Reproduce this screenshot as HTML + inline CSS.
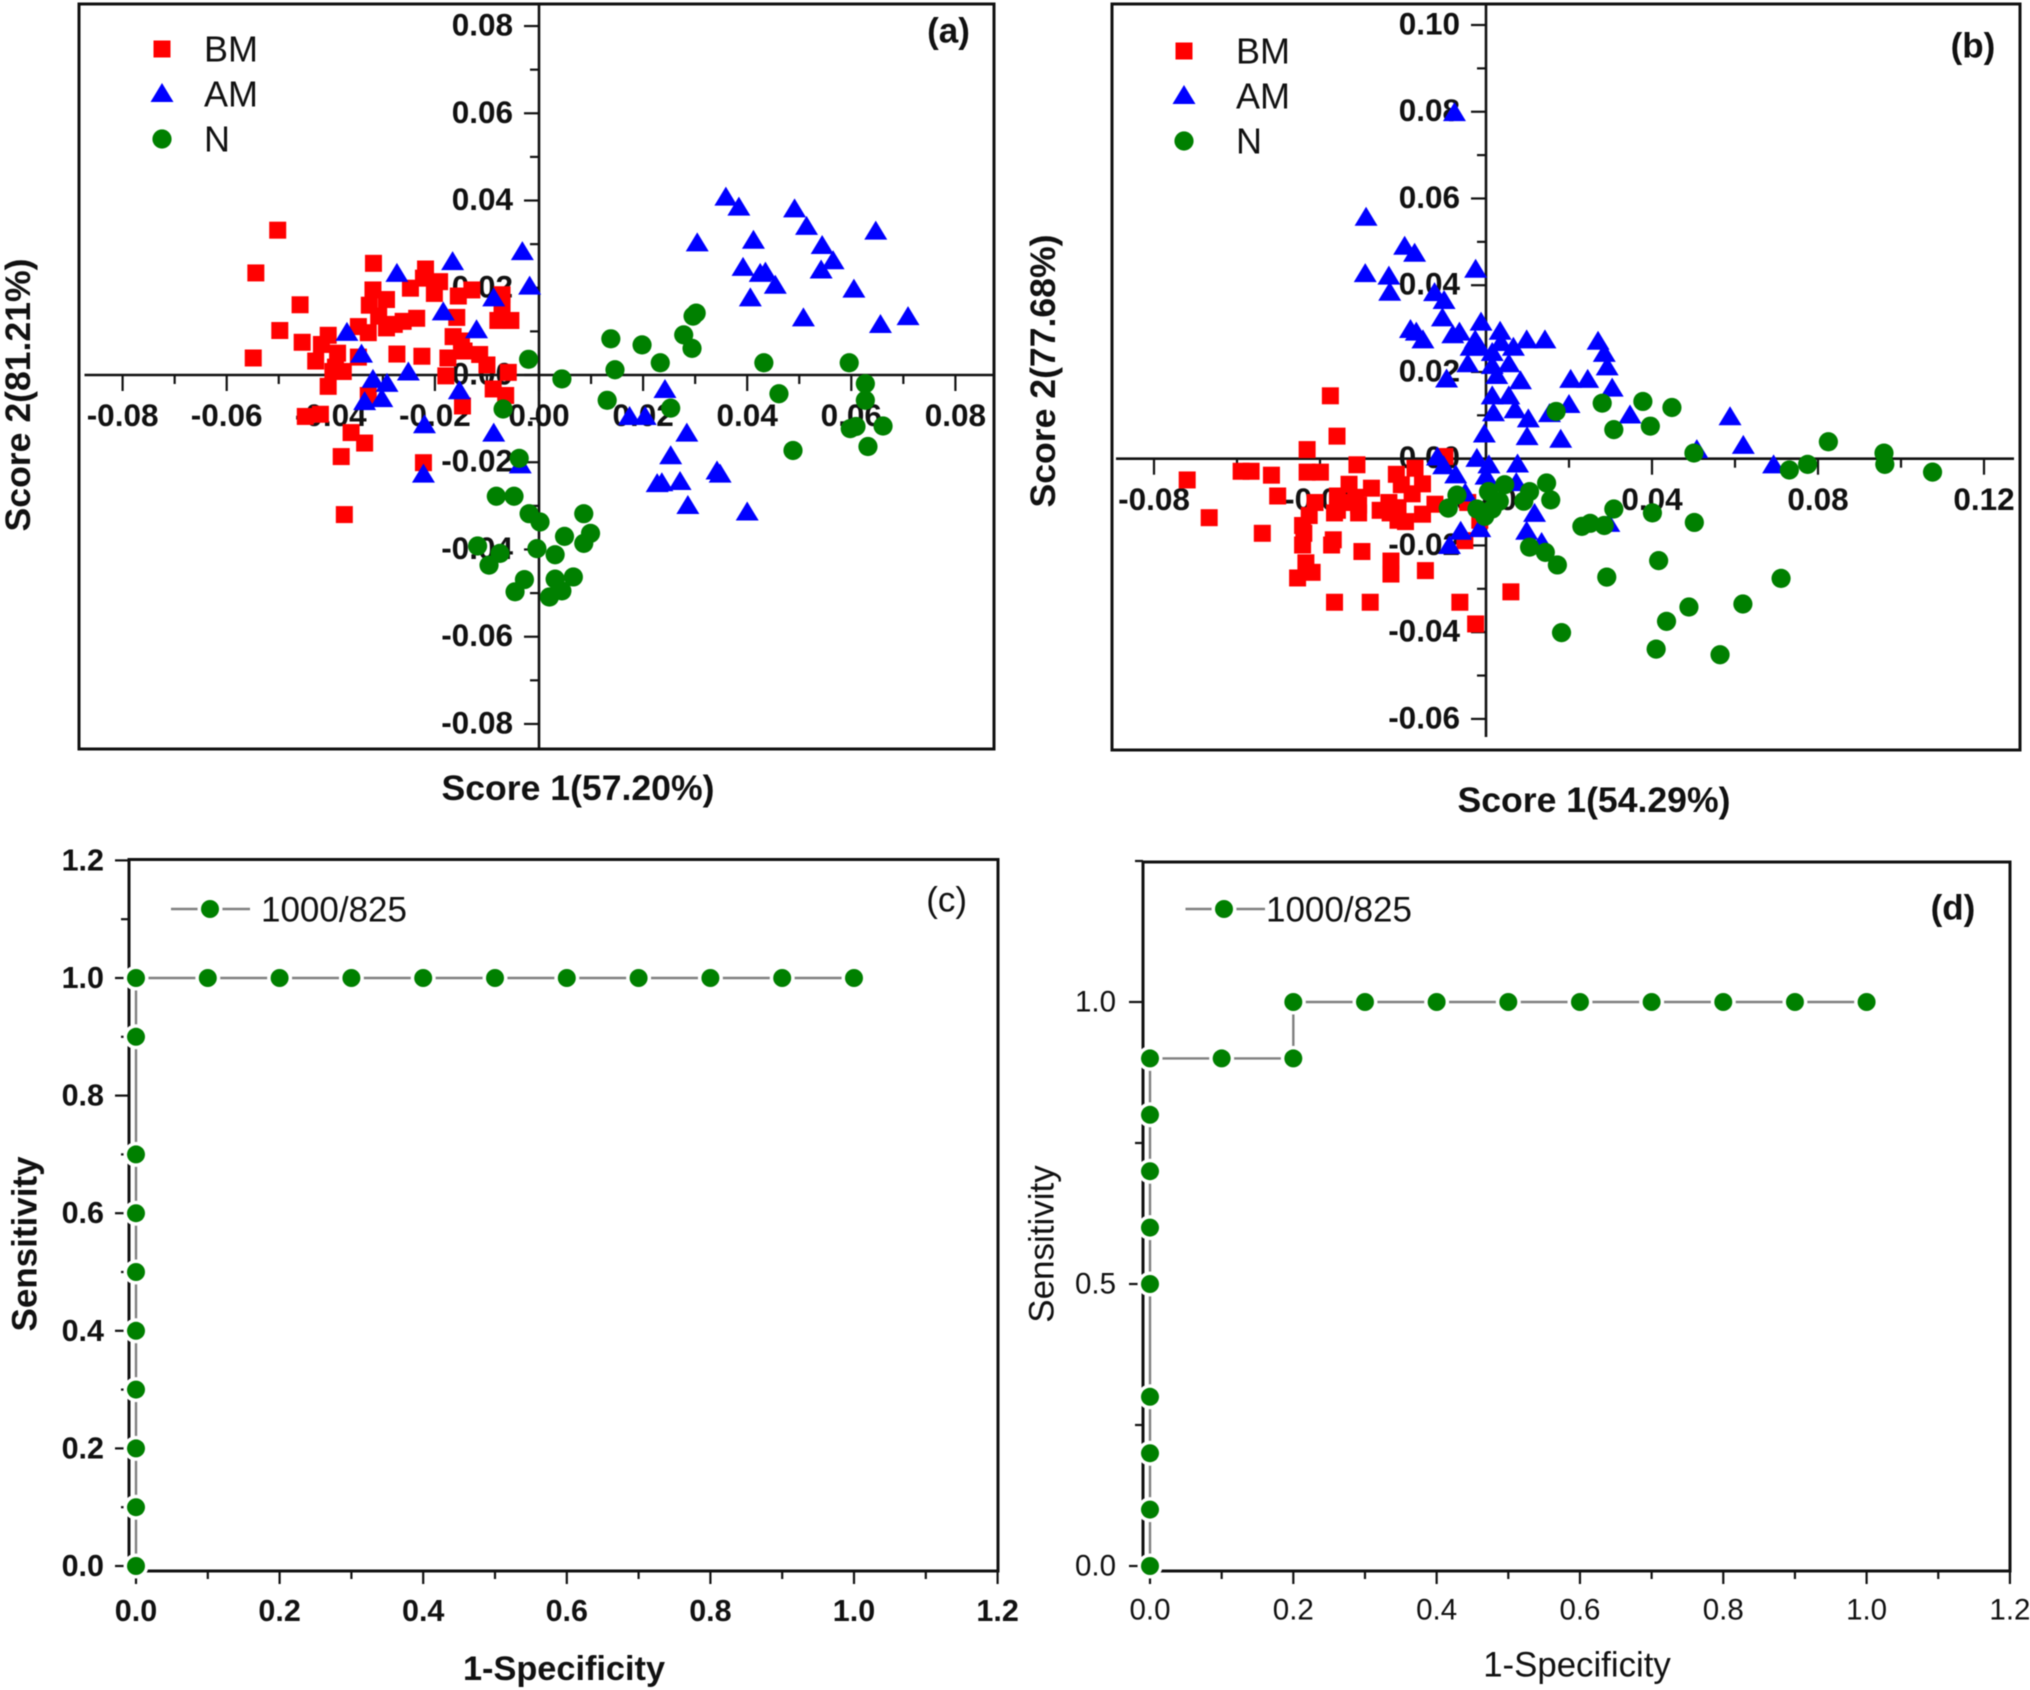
<!DOCTYPE html>
<html lang="en">
<head>
<meta charset="utf-8">
<title>PCA score plots and ROC curves</title>
<style>
html,body{margin:0;padding:0;background:#fff;}
svg{display:block;filter:blur(0.5px);}
text{font-family:"Liberation Sans",Arial,sans-serif;fill:#111;}
.b{font-weight:bold;}
</style>
</head>
<body>
<svg id="figure" xmlns="http://www.w3.org/2000/svg" width="2030" height="1690" viewBox="0 0 2030 1690"></svg>
<script>
// ---------- Panel (a) data ----------
const aBmX = [-.0502,-.0544,-.0459,-.0498,-.0455,-.0549,-.0429,-.0405,-.0418,-.0387,-.0391,-.0376,-.0396,-.0405,-.0449,-.0420,-.0361,-.0335,-.0380,-.0374,-.0222,-.0147,-.0179,-.0175,-.0225,-.0273,-.0347,-.0328,-.0318,-.0319,-.0326,-.0293,-.0308,-.0293,-.0278,-.0261,-.0235,-.0247,-.0218,-.0222,-.0191,-.0201,-.0155,-.0129,-.0071,-.0158,-.0165,-.0149,-.0144,-.0114,-.0100,-.0071,-.0079,-.0054,-.0059,-.0088,-.0064,-.0328,-.0347];
const aBmY = [.0332,.0234,.0161,.0102,.0075,.0039,.0032,.0091,.0070,.0050,.0018,.0008,.0008,-.0026,-.0095,-.0090,-.0132,-.0156,-.0187,-.0320,-.0201,-.0071,-.0002,.0039,.0043,.0048,.0111,.0097,.0256,.0195,.0160,.0173,.0135,.0108,.0116,.0123,.0130,.0199,.0243,.0222,.0214,.0187,.0181,.0195,.0184,.0132,.0088,.0078,.0055,.0047,.0023,.0158,.0125,.0125,.0006,-.0032,-.0047,-.0047,.0041];
const aAmX = [-.0369,-.0341,-.0319,-.0292,-.0251,-.0335,-.0302,-.0273,-.0166,-.0184,-.0087,-.0120,-.0032,-.0018,-.0153,-.0220,-.0087,-.0036,-.0222,.0242,.0174,.0204,.0284,.0253,.0227,.0236,.0271,.0286,.0342,.0348,.0400,.0304,.0359,.0384,.0491,.0514,.0544,.0647,.0412,.0392,.0425,.0435,.0454,.0406,.0542,.0565,.0605,.0508,.0656,.0709];
const aAmY = [.0099,.0049,-.0009,-.0018,.0008,-.0060,-.0053,.0234,.0261,.0146,.0178,.0105,.0284,.0205,-.0035,-.0113,-.0132,-.0205,-.0226,-.0032,-.0094,-.0094,-.0132,-.0184,-.0248,-.0246,-.0243,-.0298,-.0219,-.0226,-.0313,.0304,.0409,.0386,.0382,.0342,.0298,.0331,.0310,.0248,.0234,.0237,.0207,.0178,.0242,.0263,.0198,.0132,.0117,.0135];
const aNX = [-.0020,.0044,.0138,.0146,.0131,.0198,.0233,.0253,.0278,.0294,.0296,.0302,.0432,.0461,.0488,.0596,.0627,.0627,.0598,.0609,.0661,.0632,-.0069,-.0038,-.0082,-.0048,-.0019,.0002,.0086,.0099,.0086,.0049,-.0004,.0031,-.0118,-.0075,-.0096,-.0028,-.0046,.0031,.0066,.0044,.0020];
const aNY = [.0036,-.0009,.0083,.0012,-.0058,.0069,.0028,-.0076,.0092,.0061,.0135,.0142,.0028,-.0043,-.0173,.0028,-.0020,-.0058,-.0123,-.0118,-.0117,-.0164,-.0078,-.0191,-.0278,-.0278,-.0318,-.0337,-.0318,-.0363,-.0386,-.0370,-.0398,-.0412,-.0392,-.0409,-.0436,-.0469,-.0497,-.0468,-.0463,-.0495,-.0509];
const aXTicks = ["-0.08","-0.06","-0.04","-0.02","0.00","0.02","0.04","0.06","0.08"];
const aYTicks = ["-0.08","-0.06","-0.04","-0.02","0.00","0.02","0.04","0.06","0.08"];

// ---------- Panel (b) data ----------
const bBmX = [-.0720,-.0667,-.0590,-.0566,-.0517,-.0502,-.0539,-.0431,-.0375,-.0359,-.0431,-.0399,-.0311,-.0330,-.0358,-.0412,-.0426,-.0442,-.0439,-.0442,-.0365,-.0368,-.0372,-.0434,-.0419,-.0454,-.0365,-.0279,-.0299,-.0229,-.0229,-.0146,-.0063,-.0025,.0060,-.0343,-.0307,-.0307,-.0276,-.0255,-.0234,-.0212,-.0212,-.0194,-.0216,-.0204,-.0171,-.0153,-.0178,-.0153,-.0123,-.0099,-.0044,-.0051,-.0015,-.0314,-.0231,-.0358];
const bBmY = [-.0049,-.0136,-.0029,-.0029,-.0038,-.0086,-.0172,.0021,.0145,.0052,-.0031,-.0031,-.0014,-.0059,-.0086,-.0101,-.0131,-.0154,-.0172,-.0199,-.0125,-.0187,-.0199,-.0240,-.0262,-.0275,-.0331,-.0331,-.0214,-.0236,-.0266,-.0258,-.0331,-.0381,-.0307,-.0101,-.0107,-.0125,-.0068,-.0119,-.0101,-.0113,-.0142,-.0145,-.0036,-.0060,-.0022,-.0058,-.0081,-.0128,-.0105,.0005,-.0101,-.0189,-.0142,-.0089,-.0125,-.0119];
const bAmX = [-.0076,-.0289,-.0196,-.0172,-.0291,-.0234,-.0232,-.0025,-.0124,-.0101,-.0105,-.0182,-.0168,-.0152,-.0080,-.0064,-.0012,.0034,-.0026,-.0036,-.0044,-.0015,.0015,.0036,.0066,.0098,.0142,.0015,.0055,-.0095,.0026,.0083,.0270,.0285,.0292,.0304,.0204,.0245,.0200,.0015,.0055,.0018,.0070,.0102,.0153,.0347,-.0004,.0099,.0180,.0588,.0620,.0508,.0693,-.0117,-.0102,-.0073,-.0022,.0007,.0076,.0000,.0073,-.0050,.0117,.0098,.0134,-.0061,-.0015,-.0088,.0296];
const bAmY = [.0799,.0558,.0491,.0475,.0428,.0422,.0385,.0438,.0384,.0366,.0326,.0299,.0293,.0275,.0287,.0293,.0316,.0295,.0275,.0258,.0220,.0258,.0246,.0269,.0258,.0275,.0275,.0216,.0220,.0185,.0193,.0181,.0272,.0244,.0213,.0164,.0184,.0184,.0126,.0146,.0146,.0107,.0114,.0093,.0105,.0102,.0058,.0052,.0046,.0098,.0032,.0022,-.0013,.0005,-.0015,-.0036,.0002,-.0013,-.0011,-.0039,-.0054,-.0078,-.0125,-.0166,-.0192,-.0166,-.0160,-.0199,-.0148];
const bNX = [.0169,.0280,.0378,.0448,.0308,.0396,.0501,.0825,.0731,.0775,.0959,.0961,.1076,.0146,.0105,.0156,.0091,.0045,.0006,.0032,-.0070,-.0091,-.0022,-.0003,.0015,.0308,.0401,.0502,.0231,.0251,.0285,.0105,.0143,.0172,.0291,.0416,.0711,.0619,.0489,.0435,.0182,.0410,.0564];
const bNY = [.0109,.0128,.0132,.0118,.0067,.0075,.0013,.0039,-.0026,-.0013,.0013,-.0013,-.0031,-.0056,-.0076,-.0095,-.0098,-.0060,-.0076,-.0098,-.0084,-.0114,-.0116,-.0133,-.0116,-.0116,-.0125,-.0147,-.0156,-.0149,-.0154,-.0204,-.0216,-.0245,-.0273,-.0235,-.0276,-.0335,-.0342,-.0375,-.0401,-.0439,-.0452];
const bXTicks = ["-0.08","-0.04","0.00","0.04","0.08","0.12"];
const bYTicks = ["-0.06","-0.04","-0.02","0.00","0.02","0.04","0.06","0.08","0.10"];

// ---------- Panel (c) data ----------
const cFpr = [0,0,0,0,0,0,0,0,0,0,0,.1,.2,.3,.4,.5,.6,.7,.8,.9,1];
const cTpr = [0,.1,.2,.3,.4,.5,.6,.7,.9,1,1,1,1,1,1,1,1,1,1,1,1];
const cXTicks = ["0.0","0.2","0.4","0.6","0.8","1.0","1.2"];
const cYTicks = ["0.0","0.2","0.4","0.6","0.8","1.0","1.2"];

// ---------- Panel (d) data ----------
const dFpr = [0,0,0,0,0,0,0,0,0,.1,.2,.2,.3,.4,.5,.6,.7,.8,.9,1];
const dTpr = [0,.1,.2,.3,.5,.6,.7,.8,.9,.9,.9,1,1,1,1,1,1,1,1,1];
const dXTicks = ["0.0","0.2","0.4","0.6","0.8","1.0","1.2"];
const dYTicks = ["0.0","0.5","1.0"];

const NS = "http://www.w3.org/2000/svg";
const root = document.getElementById("figure");
const RED = "#ff0000", BLUE = "#0000ff", GREEN = "#008000", INK = "#111", LINE = "#808080";

// axis scale functions
const xA = v => 539 + v * 5205;
const yA = v => 375 - v * 4362;
const xB = v => 1486 + v * 4150;
const yB = v => 458.7 - v * 4337;
const xC = v => 136 + v * 718;
const yC = v => 1566 - v * 588;
const xD = v => 1150 + v * 716.6;
const yD = v => 1566 - v * 564;

function mk(tag, parent, attrs, content) {
  const el = document.createElementNS(NS, tag);
  for (const k in attrs) el.setAttribute(k, attrs[k]);
  if (content !== undefined) el.textContent = content;
  parent.appendChild(el);
  return el;
}
function group(name) {
  const g = mk("g", root, {});
  
  
  return g;
}
function label(parent, name, x, y, str, size, bold, anchor, rotate) {
  const a = {x: x, y: y, "font-size": size, "text-anchor": anchor || "middle", "dominant-baseline": "central"};
  if (bold) a["class"] = "b";
  if (rotate) a.transform = "rotate(-90 " + x + " " + y + ")";
  const t = mk("text", parent, a, str);
  
  
  return t;
}
function frame(parent, x0, y0, x1, y1) {
  const r = mk("rect", parent, {x: x0, y: y0, width: x1 - x0, height: y1 - y0, fill: "none", stroke: INK, "stroke-width": 3});
  
  
}
function axisLine(parent, name, x1, y1, x2, y2) {
  const l = mk("line", parent, {x1: x1, y1: y1, x2: x2, y2: y2, stroke: INK, "stroke-width": 2.6});
  
  
}
function tick(parent, x1, y1, x2, y2) {
  const l = mk("line", parent, {x1: x1, y1: y1, x2: x2, y2: y2, stroke: INK, "stroke-width": 2.2});
  
  
}
function square(parent, x, y) {
  const s = mk("rect", parent, {x: x - 8.5, y: y - 8.5, width: 17, height: 17, fill: RED});
  
  
}
function triangle(parent, x, y) {
  const p = mk("polygon", parent, {points: (x - 11.5) + "," + (y + 9) + " " + (x + 11.5) + "," + (y + 9) + " " + x + "," + (y - 10), fill: BLUE});
  
  
}
function dot(parent, x, y) {
  const c = mk("circle", parent, {cx: x, cy: y, r: 9.6, fill: GREEN});
  
  
}
function rocPoint(parent, x, y) {
  const halo = mk("circle", parent, {cx: x, cy: y, r: 12.5, fill: "#fff"});
  
  
  const c = mk("circle", parent, {cx: x, cy: y, r: 9, fill: GREEN});
  
  
}

function scoreLegend(parent, mx, tx, y1, y2, y3) {
  square(parent, mx, y1);
  label(parent, "legend-bm", tx, y1, "BM", 36, false, "start");
  triangle(parent, mx, y2);
  label(parent, "legend-am", tx, y2 + 1, "AM", 36, false, "start");
  dot(parent, mx, y3);
  label(parent, "legend-n", tx, y3, "N", 36, false, "start");
}

function scorePanel(p) {
  const g = group(p.name);
  frame(g, p.box[0], p.box[1], p.box[2], p.box[3]);
  axisLine(g, "x-zero-axis", p.xAxis[0], p.sy(0), p.xAxis[1], p.sy(0));
  axisLine(g, "y-zero-axis", p.sx(0), p.box[1], p.sx(0), p.yEnd);
  p.xTicks.forEach(s => {
    const v = parseFloat(s);
    tick(g, p.sx(v), p.sy(0), p.sx(v), p.sy(0) + 16);
    label(g, "x-tick-label", p.sx(v), p.xLabelY, s, 31.5, true);
    const m = v + p.xMinor;
    if (p.sx(m) < p.xAxis[1] - 4 && p.sx(m) > p.xAxis[0]) tick(g, p.sx(m), p.sy(0), p.sx(m), p.sy(0) + 9);
  });
  p.yTicks.forEach((s, i) => {
    const v = parseFloat(s);
    tick(g, p.sx(0), p.sy(v), p.sx(0) - 15, p.sy(v));
    label(g, "y-tick-label", p.yLabelX, p.sy(v) - 1.5, s, 31.5, true, "end");
    if (i < p.yTicks.length - 1) tick(g, p.sx(0), p.sy(v + 0.01), p.sx(0) - 9, p.sy(v + 0.01));
  });
  p.bmX.forEach((v, i) => square(g, p.sx(v), p.sy(p.bmY[i])));
  p.amX.forEach((v, i) => triangle(g, p.sx(v), p.sy(p.amY[i])));
  p.nX.forEach((v, i) => dot(g, p.sx(v), p.sy(p.nY[i])));
  scoreLegend(g, p.leg[0], p.leg[1], p.leg[2], p.leg[3], p.leg[4]);
  label(g, "panel-label", p.tag[0], p.tag[1] - 1, p.tag[2], 35, true);
  label(g, "x-axis-title", p.xt[0], p.xt[1], p.xt[2], 35.6, true);
  label(g, "y-axis-title", p.yt[0], p.yt[1], p.yt[2], 35.6, true, "middle", true);
}

function rocPanel(p) {
  const g = group(p.name);
  frame(g, p.box[0], p.box[1], p.box[2], p.box[3]);
  p.xTicks.forEach((s, i) => {
    const v = parseFloat(s);
    tick(g, p.sx(v), p.box[3], p.sx(v), p.box[3] + 13);
    label(g, "x-tick-label", p.sx(v), p.xLabelY, s, p.tickSize, p.bold);
    if (i < p.xTicks.length - 1) tick(g, p.sx(v + 0.1), p.box[3], p.sx(v + 0.1), p.box[3] + 8);
  });
  p.yTicks.forEach((s, i) => {
    const v = parseFloat(s);
    tick(g, p.box[0], p.sy(v), p.box[0] - 14, p.sy(v));
    label(g, "y-tick-label", p.yLabelX, p.sy(v), s, p.tickSize, p.bold, "end");
    if (p.sy(v + p.yMinor) >= p.box[1] - 1) tick(g, p.box[0], p.sy(v + p.yMinor), p.box[0] - 8, p.sy(v + p.yMinor));
  });
  const pts = p.fpr.map((v, i) => p.sx(v) + "," + p.sy(p.tpr[i])).join(" ");
  const curve = mk("polyline", g, {points: pts, fill: "none", stroke: LINE, "stroke-width": 2.4});
  
  
  p.fpr.forEach((v, i) => rocPoint(g, p.sx(v), p.sy(p.tpr[i])));
  const ll = mk("line", g, {x1: p.leg[0], y1: p.leg[3], x2: p.leg[1], y2: p.leg[3], stroke: LINE, "stroke-width": 2.4});
  
  
  rocPoint(g, p.leg[2], p.leg[3]);
  label(g, "legend-label", p.leg[4], p.leg[3] + 1, "1000/825", 35, false, "start");
  label(g, "panel-label", p.tag[0], p.tag[1] - 1, p.tag[2], 35, p.tag[3]);
  label(g, "x-axis-title", p.xt[0], p.xt[1], "1-Specificity", p.xtSize, p.bold);
  label(g, "y-axis-title", p.yt[0], p.yt[1], "Sensitivity", 35, p.bold, "middle", true);
}

scorePanel({name: "panel-a", box: [79, 4, 994, 749], xAxis: [84.5, 994], yEnd: 749, sx: xA, sy: yA,
  xTicks: aXTicks, yTicks: aYTicks, xMinor: .01, xLabelY: 415, yLabelX: 513,
  bmX: aBmX, bmY: aBmY, amX: aAmX, amY: aAmY, nX: aNX, nY: aNY,
  leg: [162, 204, 49, 93, 139], tag: [948.5, 32, "(a)"],
  xt: [578, 788, "Score 1(57.20%)"], yt: [18, 395, "Score 2(81.21%)"]});

scorePanel({name: "panel-b", box: [1112, 4, 2020, 750], xAxis: [1116, 2014], yEnd: 737, sx: xB, sy: yB,
  xTicks: bXTicks, yTicks: bYTicks, xMinor: .02, xLabelY: 499, yLabelX: 1460,
  bmX: bBmX, bmY: bBmY, amX: bAmX, amY: bAmY, nX: bNX, nY: bNY,
  leg: [1184, 1236, 51, 95, 141], tag: [1973, 47, "(b)"],
  xt: [1594, 800, "Score 1(54.29%)"], yt: [1043, 371, "Score 2(77.68%)"]});

rocPanel({name: "panel-c", box: [129, 859.5, 998, 1571], sx: xC, sy: yC, fpr: cFpr, tpr: cTpr,
  xTicks: cXTicks, yTicks: cYTicks, yMinor: .1, xLabelY: 1611, yLabelX: 104, tickSize: 30.5, bold: true, xtSize: 34.3,
  leg: [171, 250, 210, 909, 261], tag: [946.6, 901, "(c)", false],
  xt: [564, 1669], yt: [25, 1244]});

rocPanel({name: "panel-d", box: [1143, 862, 2010, 1571], sx: xD, sy: yD, fpr: dFpr, tpr: dTpr,
  xTicks: dXTicks, yTicks: dYTicks, yMinor: .25, xLabelY: 1610, yLabelX: 1116, tickSize: 29.5, bold: false, xtSize: 34.8,
  leg: [1185.5, 1265, 1224, 909, 1266], tag: [1953, 909, "(d)", true],
  xt: [1577, 1665], yt: [1042, 1244]});
</script>
</body>
</html>
